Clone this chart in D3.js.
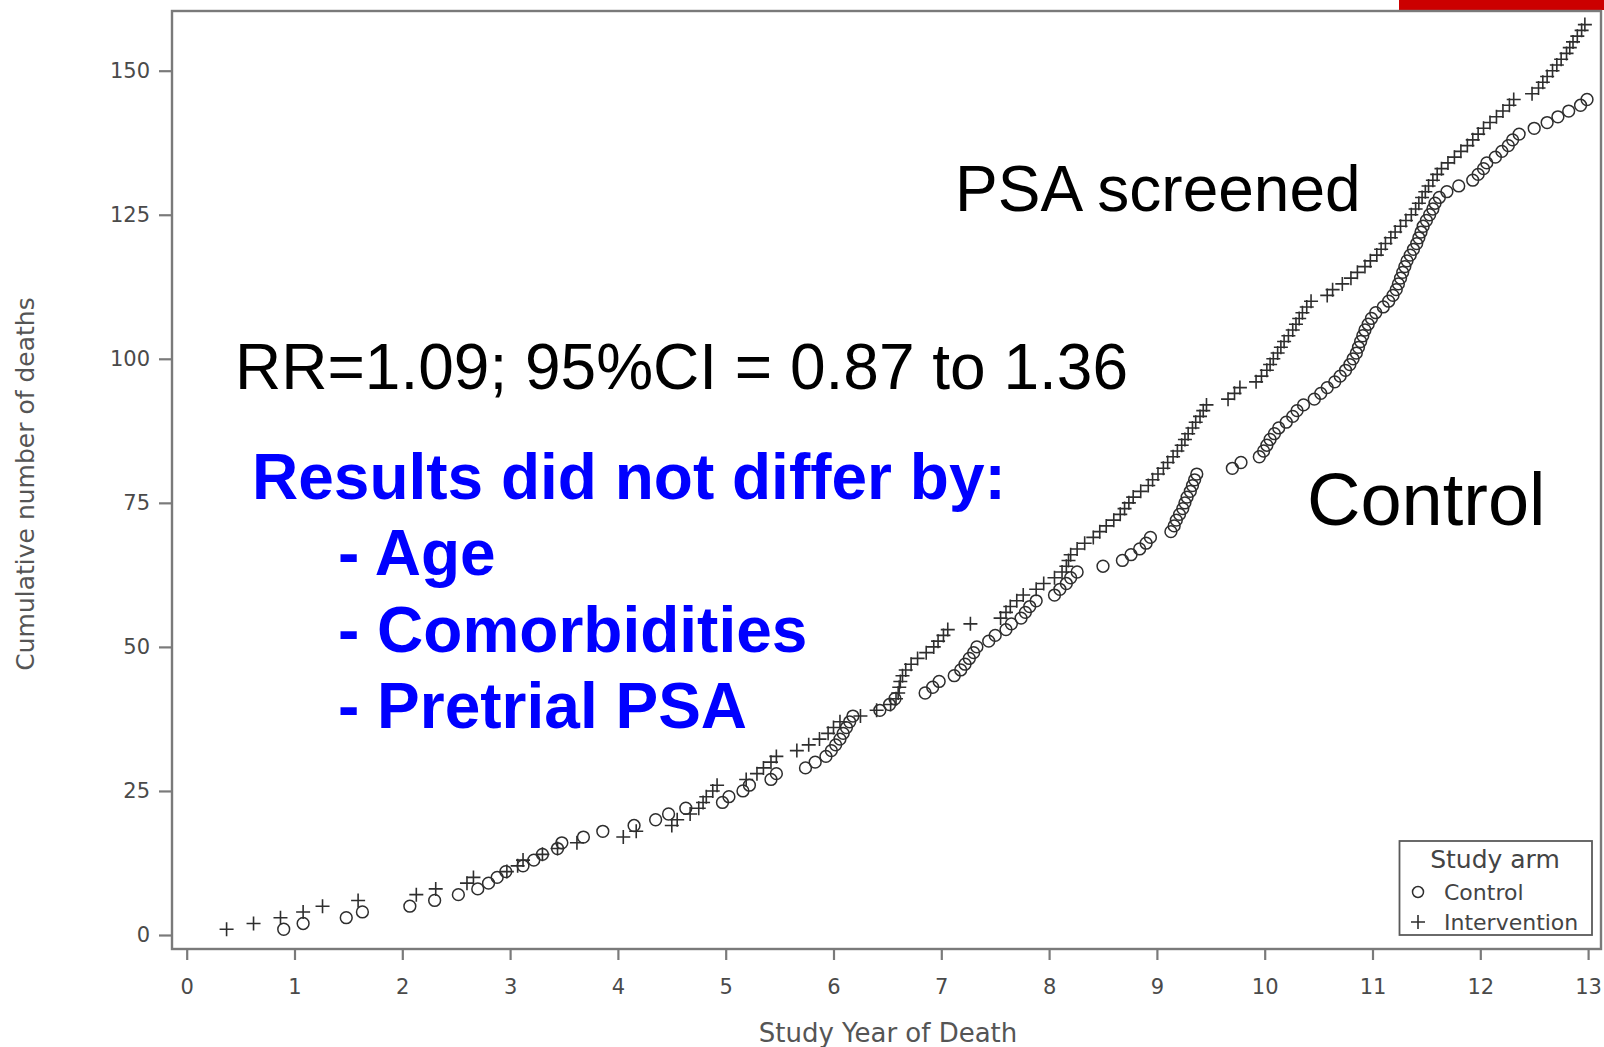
<!DOCTYPE html>
<html>
<head>
<meta charset="utf-8">
<script src="https://cdn.jsdelivr.net/npm/d3@7"></script>
<style>
  html, body { margin: 0; padding: 0; background: #fff; }
  svg { display: block; }
</style>
</head>
<body>
<svg id="chart" width="1604" height="1047"></svg>
<script>
// ---------------- data ----------------
const xTicks = [0, 1, 2, 3, 4, 5, 6, 7, 8, 9, 10, 11, 12, 13];
const yTicks = [0, 25, 50, 75, 100, 125, 150];
const armNames = ["Control", "Intervention"];

// Study year of each death, in order (cumulative count = position in list)
const controlYears = [
  0.90, 1.08, 1.48, 1.63, 2.07, 2.30, 2.52, 2.70, 2.80, 2.88,
  2.96, 3.12, 3.22, 3.30, 3.44, 3.48, 3.68, 3.86, 4.15, 4.35,
  4.47, 4.63, 4.97, 5.03, 5.16, 5.22, 5.42, 5.47, 5.74, 5.83,
  5.93, 5.98, 6.02, 6.06, 6.09, 6.12, 6.15, 6.18, 6.43, 6.52,
  6.57, 6.85, 6.92, 6.98, 7.12, 7.18, 7.22, 7.26, 7.30, 7.33,
  7.44, 7.50, 7.60, 7.65, 7.74, 7.78, 7.82, 7.88, 8.05, 8.10,
  8.16, 8.20, 8.26, 8.50, 8.68, 8.76, 8.84, 8.90, 8.94, 9.13,
  9.16, 9.18, 9.21, 9.24, 9.26, 9.28, 9.31, 9.33, 9.35, 9.37,
  9.70, 9.78, 9.95, 9.99, 10.02, 10.05, 10.09, 10.13, 10.20, 10.26,
  10.30, 10.36, 10.46, 10.52, 10.58, 10.65, 10.70, 10.75, 10.79, 10.82,
  10.85, 10.87, 10.89, 10.91, 10.93, 10.96, 10.99, 11.03, 11.10, 11.15,
  11.19, 11.22, 11.24, 11.26, 11.28, 11.30, 11.32, 11.35, 11.38, 11.41,
  11.43, 11.45, 11.47, 11.50, 11.53, 11.56, 11.58, 11.62, 11.69, 11.80,
  11.93, 11.98, 12.03, 12.06, 12.14, 12.20, 12.26, 12.30, 12.36, 12.50,
  12.62, 12.72, 12.82, 12.93, 12.99
];

const interventionYears = [
  0.37, 0.62, 0.87, 1.08, 1.26, 1.59, 2.13, 2.31, 2.60, 2.66,
  2.97, 3.07, 3.12, 3.30, 3.44, 3.62, 4.05, 4.17, 4.50, 4.55,
  4.67, 4.75, 4.79, 4.82, 4.88, 4.92, 5.19, 5.29, 5.35, 5.42,
  5.47, 5.66, 5.77, 5.87, 5.95, 6.00, 6.06, 6.25, 6.40, 6.53,
  6.58, 6.60, 6.61, 6.62, 6.64, 6.67, 6.72, 6.78, 6.86, 6.93,
  6.97, 7.02, 7.06, 7.27, 7.55, 7.60, 7.64, 7.70, 7.76, 7.88,
  7.95, 8.05, 8.12, 8.16, 8.18, 8.20, 8.26, 8.33, 8.41, 8.47,
  8.53, 8.60, 8.66, 8.70, 8.74, 8.78, 8.85, 8.92, 8.96, 9.01,
  9.06, 9.10, 9.15, 9.19, 9.23, 9.26, 9.29, 9.33, 9.36, 9.40,
  9.43, 9.46, 9.66, 9.72, 9.77, 9.92, 9.97, 10.02, 10.05, 10.08,
  10.12, 10.15, 10.18, 10.22, 10.26, 10.29, 10.32, 10.35, 10.39, 10.43,
  10.58, 10.63, 10.72, 10.80, 10.86, 10.93, 10.98, 11.04, 11.08, 11.12,
  11.17, 11.21, 11.26, 11.31, 11.36, 11.40, 11.43, 11.46, 11.49, 11.52,
  11.56, 11.60, 11.64, 11.70, 11.76, 11.82, 11.88, 11.93, 11.98, 12.03,
  12.09, 12.15, 12.21, 12.27, 12.31, 12.48, 12.54, 12.58, 12.62, 12.67,
  12.71, 12.75, 12.80, 12.83, 12.86, 12.90, 12.94, 12.97
];

const xTitle = "Study Year of Death";
const yTitle = "Cumulative number of deaths";
const legendTitle = "Study arm";
const notePSA = "PSA screened";
const noteControl = "Control";
const noteRR = "RR=1.09; 95%CI = 0.87 to 1.36";
const noteLines = ["Results did not differ by:", "- Age", "- Comorbidities", "- Pretrial PSA"];

// ---------------- layout ----------------
const frame = { left: 172, right: 1601, top: 11, bottom: 949 };
const svg = d3.select("#chart");

const x = d3.scaleLinear().domain([0, 13]).range([186.7, 1588.1]);
const y = d3.scaleLinear().domain([0, 150]).range([935, 70.7]);

const axisColor = "#7a7a7a";
const tickTextColor = "#4a4a4a";
const markColor = "#2e2e2e";

// red bar top-right
svg.append("rect").attr("x", 1399).attr("y", 0).attr("width", 205).attr("height", 10).attr("fill", "#cc0000");

// frame
svg.append("rect")
  .attr("x", frame.left).attr("y", frame.top)
  .attr("width", frame.right - frame.left).attr("height", frame.bottom - frame.top)
  .attr("fill", "none").attr("stroke", axisColor).attr("stroke-width", 2.4);

// x axis
const gx = svg.append("g").attr("transform", `translate(0,${frame.bottom})`)
  .call(d3.axisBottom(x).tickValues(xTicks).tickSize(11).tickFormat(d3.format("d")));
gx.select(".domain").remove();
gx.selectAll(".tick line").attr("stroke", axisColor).attr("stroke-width", 2.2);
gx.selectAll(".tick text")
  .attr("y", 30).attr("dy", "0.71em")
  .attr("fill", tickTextColor).style("font-family", "DejaVu Sans").style("font-size", "21px");

// y axis
const gy = svg.append("g").attr("transform", `translate(${frame.left},0)`)
  .call(d3.axisLeft(y).tickValues(yTicks).tickSize(13).tickPadding(9));
gy.select(".domain").remove();
gy.selectAll(".tick line").attr("stroke", axisColor).attr("stroke-width", 2.2);
gy.selectAll(".tick text")
  .attr("fill", tickTextColor).style("font-family", "DejaVu Sans").style("font-size", "21px");

// axis titles
svg.append("text").attr("x", 888).attr("y", 1042).attr("text-anchor", "middle")
  .attr("fill", "#555").style("font-family", "DejaVu Sans").style("font-size", "26px").text(xTitle);
svg.append("text").attr("transform", "translate(34,484) rotate(-90)").attr("text-anchor", "middle")
  .attr("fill", "#555").style("font-family", "DejaVu Sans").style("font-size", "25px").text(yTitle);

// ---------------- marks ----------------
const toPoints = arr => arr.map((t, i) => ({ t: t, n: i + 1 }));
const controlPts = toPoints(controlYears);
const interPts = toPoints(interventionYears);

const plus = "M-7,0H7M0,-7V7";

svg.append("g").selectAll("circle").data(controlPts).join("circle")
  .attr("cx", d => x(d.t)).attr("cy", d => y(d.n)).attr("r", 5.9)
  .attr("fill", "none").attr("stroke", markColor).attr("stroke-width", 1.5);

svg.append("g").selectAll("path").data(interPts).join("path")
  .attr("transform", d => `translate(${x(d.t)},${y(d.n)})`)
  .attr("d", plus).attr("fill", "none").attr("stroke", markColor).attr("stroke-width", 1.6);

// ---------------- legend ----------------
const lg = svg.append("g");
lg.append("rect").attr("x", 1399.5).attr("y", 841).attr("width", 192.5).attr("height", 94)
  .attr("fill", "#fff").attr("stroke", "#5a5a5a").attr("stroke-width", 1.8);
lg.append("text").attr("x", 1495).attr("y", 868).attr("text-anchor", "middle")
  .attr("fill", "#444").style("font-family", "DejaVu Sans").style("font-size", "25px").text(legendTitle);
lg.append("circle").attr("cx", 1418).attr("cy", 892).attr("r", 5.5)
  .attr("fill", "none").attr("stroke", markColor).attr("stroke-width", 1.5);
lg.append("path").attr("transform", "translate(1418,922)").attr("d", plus)
  .attr("fill", "none").attr("stroke", markColor).attr("stroke-width", 1.6);
lg.append("text").attr("x", 1444).attr("y", 900)
  .attr("fill", "#444").style("font-family", "DejaVu Sans").style("font-size", "22px").text(armNames[0]);
lg.append("text").attr("x", 1444).attr("y", 930)
  .attr("fill", "#444").style("font-family", "DejaVu Sans").style("font-size", "22px").text(armNames[1]);

// ---------------- annotations ----------------
const sans = "Liberation Sans, Arial, sans-serif";
svg.append("text").attr("x", 955).attr("y", 211).attr("fill", "#000")
  .style("font-family", sans).style("font-size", "64px").text(notePSA);
svg.append("text").attr("x", 1307).attr("y", 525).attr("fill", "#000")
  .style("font-family", sans).style("font-size", "74px").text(noteControl);
svg.append("text").attr("x", 235).attr("y", 389).attr("fill", "#000")
  .style("font-family", sans).style("font-size", "64px").text(noteRR);

const noteX = [252, 338, 338, 338];
const noteY = [499, 575, 652, 728];
noteLines.forEach((s, i) => {
  svg.append("text").attr("x", noteX[i]).attr("y", noteY[i]).attr("fill", "#0000ff")
    .style("font-family", sans).style("font-weight", "bold").style("font-size", "64px").text(s);
});
</script>
</body>
</html>
